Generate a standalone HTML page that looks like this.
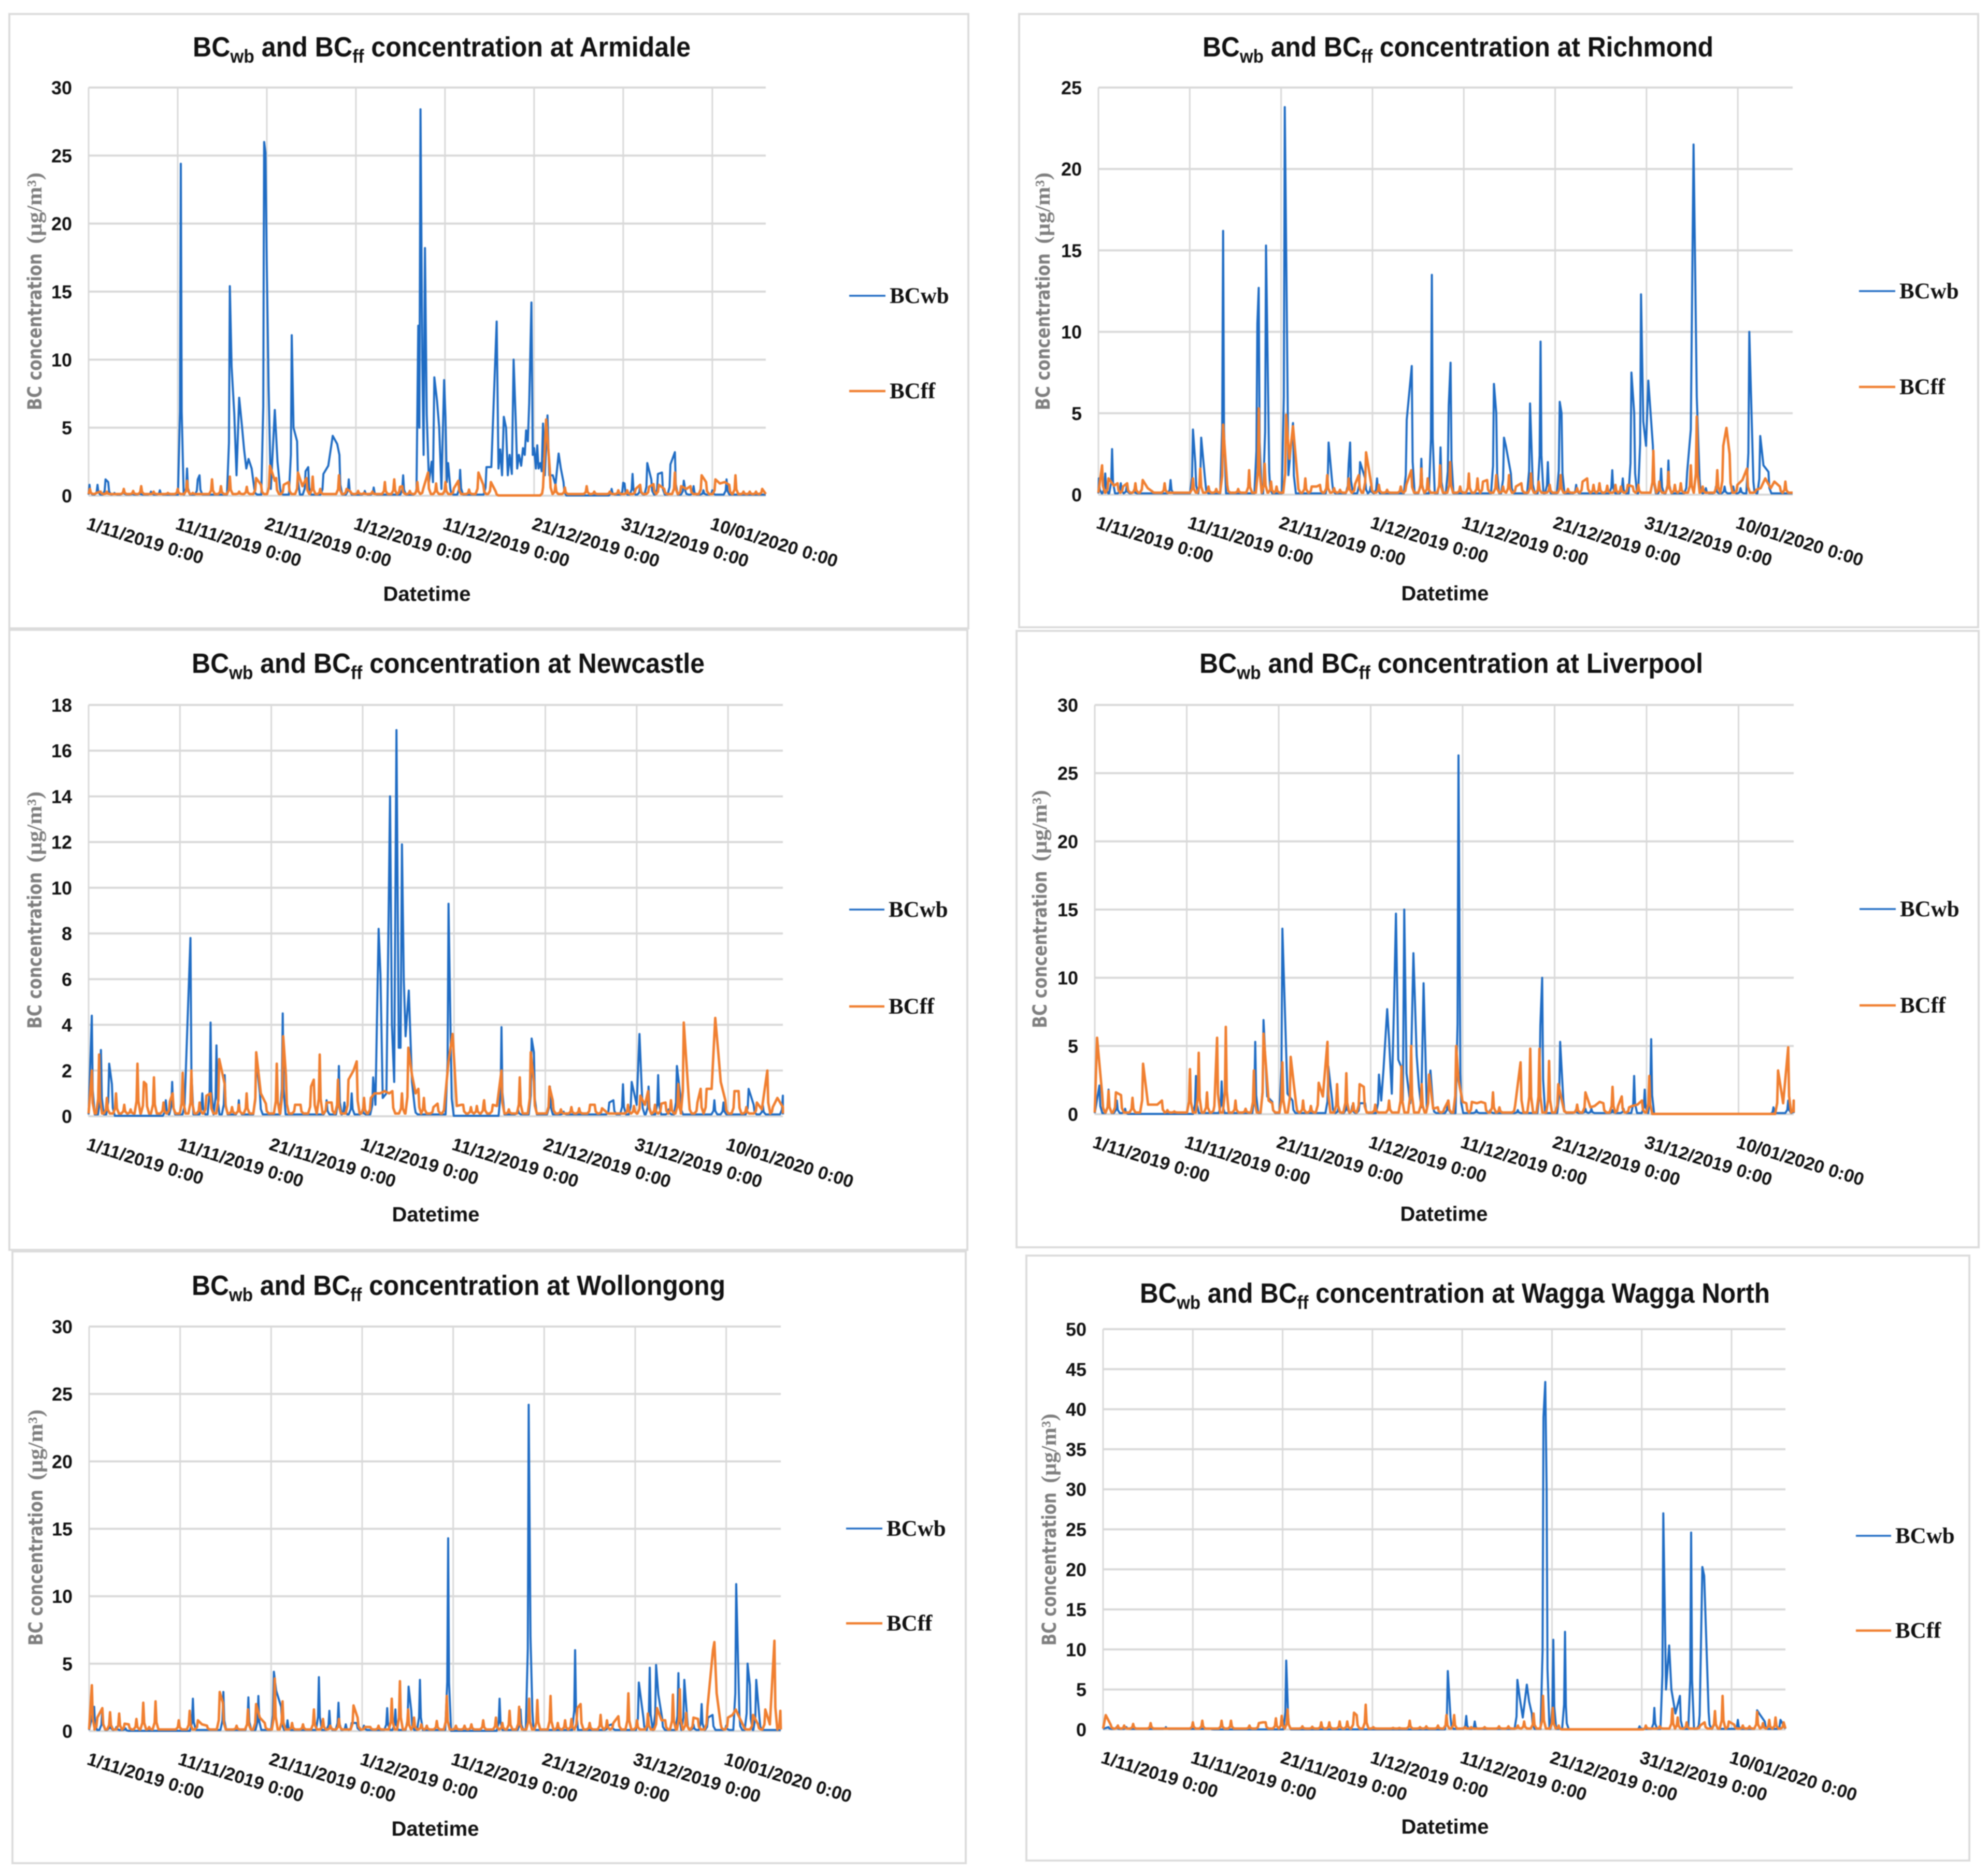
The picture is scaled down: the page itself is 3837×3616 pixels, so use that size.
<!DOCTYPE html>
<html lang="en">
<head>
<meta charset="utf-8">
<title>BCwb and BCff concentration at six NSW sites</title>
<style>
html,body{margin:0;padding:0;background:#fff;}
svg{display:block;filter:blur(1.1px);}
</style>
</head>
<body>
<svg id="figure" xmlns="http://www.w3.org/2000/svg" width="3837" height="3616" viewBox="0 0 3837 3616"></svg>
<script>
// Shared axis data
const dateTickDays = [0,10,20,30,40,50,60,70];
const dateTickLabels = ["1/11/2019 0:00","11/11/2019 0:00","21/11/2019 0:00","1/12/2019 0:00","11/12/2019 0:00","21/12/2019 0:00","31/12/2019 0:00","10/01/2020 0:00"];
const dayDomainEnd = 76;

// Armidale
const armidaleTicks = [0,5,10,15,20,25,30];
const armidaleWbDays = [0.1,1,1.9,2.2,3.9,7,8,10.35,11.05,12.25,12.45,15.85,16.05,16.35,16.6,16.9,17.2,17.45,17.7,17.95,18.3,18.6,19.7,19.85,20,20.2,20.45,20.9,21.2,21.5,22.8,23,23.4,24.35,24.65,26.35,26.9,27.4,27.9,28.15,29.2,32,35.3,36.8,37,37.12,37.25,37.45,37.6,37.75,37.95,38.2,38.5,38.65,38.8,39.1,39.35,39.6,39.9,40.05,40.2,40.35,40.6,41.7,44.65,45.2,45.8,46,46.2,46.4,46.6,46.85,47.05,47.25,47.5,47.7,47.95,48.1,48.3,48.55,48.75,48.95,49.1,49.3,49.45,49.7,49.85,50,50.2,50.35,50.5,50.7,50.85,51,51.2,51.5,51.7,52.1,52.4,52.75,53,53.3,58.7,60.15,61.05,61.9,62.7,63.15,63.9,64.35,65.3,65.8,66.8,67.9,71.6];
const armidaleWbValues = [0.8,0.8,1.2,1,0.4,0.3,0.4,24.4,2,1.2,1.5,15.4,9.5,6,1.5,7.2,5.2,3.4,2,2.7,2,0.5,26,25.2,17,8,0.5,6.3,2.5,0.5,11.8,5,4,1.8,2.1,1.6,2.2,4.4,3.8,3,1.2,0.6,1.5,0.5,12.5,5,28.4,10,3,18.2,6,1,2.5,1,8.7,7,5,0.5,8.5,5.8,1,2.4,0.5,1.9,2.1,2.1,12.8,2,3.4,1.5,5.8,5,1.5,3,1.6,10,5.3,2,3,2.2,3.5,3,4.8,4,6.8,14.2,3,3.5,2,3.7,2,2.4,1.8,5.3,1.5,5.9,1.5,1.5,0.8,3.1,2,1,0.5,0.9,1.6,0.7,2.4,1.2,1.6,1.7,2.3,3.2,1.1,0.7,1.2];
const armidaleWbMinorDays = [2.9,4.9,5.75,31,60,67,69,70];
const armidaleWbMinorValues = [0.2,0.15,0.2,0.35,0.95,0.3,0.4,0.4];
const armidaleFfDays = [0.15,1.35,3.95,5.9,7.3,10,11.05,13.85,14.85,15.85,16.9,18.8,19.35,20.35,21.05,21.9,22.45,23.5,24.45,25.15,28.1,28.95,30.9,33.25,34.3,35.2,36.9,38.1,39,40.05,41.5,43.75,44.3,45.15,45.7,51,51.35,51.75,52.4,53.45,55.9,59.45,61.9,64,65.8,66.5,67.55,68.8,69.3,70.35,71.4,72.6,73.5,75.6];
const armidaleFfValues = [0.5,0.3,0.5,0.7,0.3,0.5,1.1,1.2,0.7,1.4,0.3,1.3,0.8,2.2,1.3,0.8,1,1.7,1.3,1.4,1.5,0.5,0.2,1,1.2,0.7,1,1.7,0.9,1,1.1,1.7,0.8,1,0.3,0.6,5.6,2,0.8,0.6,0.7,0.4,0.8,0.8,1.7,0.7,0.7,1.5,1,1.2,1,1.5,0.3,0.5];
const armidaleFfMinorDays = [0.85,2.05,5,8.9,11.7,17.75,20.9,24,26,29.4,30.25,31.85,34.95,36.05,37.55,41,42.7,56.75,58.5,60.45,61.4,62.9,63.4,64.6,67.1,70.85,71.9,74.2,74.9];
const armidaleFfMinorValues = [0.2,0.3,0.35,0.2,0.2,0.65,1.1,0.7,0.5,0.3,0.35,0.3,0.65,0.35,0.5,0.55,0.45,0.3,0.3,0.4,0.5,0.65,0.85,0.5,0.5,0.9,0.8,0.3,0.3];

// Richmond
const richmondTicks = [0,5,10,15,20,25];
const richmondWbDays = [0.05,0.75,1.5,2.45,7.9,10.35,10.6,11.25,11.7,13.65,17.4,17.55,18.35,18.7,20.4,20.8,21.3,25.2,25.6,27.4,27.55,28.65,29.2,30.5,33.75,34.3,35.35,36.5,37.45,38.35,38.55,43.3,43.55,44.4,44.6,45.15,47.25,47.45,48.4,49.2,50.5,50.7,52.3,56.25,57.4,58.35,58.65,59.4,59.65,59.95,60.2,60.7,61.6,62.4,64.45,64.85,65.15,65.5,65.8,68.55,71.25,71.7,72.45,72.8,73.35];
const richmondWbValues = [1,1.3,2.8,0.7,0.9,4,2,3.5,0.8,16.2,10.5,12.7,15.3,1.4,23.8,1.2,4.4,3.2,0.7,1.9,3.2,2,1,1,4.6,7.9,2.2,13.5,2.9,5.5,8.1,6.8,5,3.5,3,1.3,5.6,2.3,9.4,2,5.7,5,0.6,1.5,1,7.5,5,12.3,4.5,3,7,3,1.6,2.1,1.4,4,21.5,6,1,0.5,10,0.8,3.6,1.8,1.4];
const richmondWbMinorDays = [3.1,3.9,29.8,66.5,67.6,69.5,70.3];
const richmondWbMinorValues = [0.5,0.3,0.5,0.4,0.5,0.5,0.4];
const richmondFfDays = [0.4,1.1,2.1,3.15,4.05,4.85,5.9,7.25,10.35,11.15,12.05,13.65,14.1,16.5,17.55,18.2,18.9,20.55,20.9,21.3,21.8,22.65,23.35,24.25,25.05,26.45,27.4,28.5,29.3,29.85,30.7,33.1,34.25,35.35,36.05,37.4,38.5,40.55,41.5,42.55,43.55,44.95,46.3,47.35,48.2,49.4,50.6,53.5,54.85,56.6,57.95,59.1,60.75,62.4,63.75,64.85,65.5,66.15,67.75,68.4,68.75,69.1,69.95,71,72,73,74,75.2];
const richmondFfValues = [1.8,1,0.7,0.7,0.7,0.9,0.2,0.7,1,1.6,0.5,4.3,0.6,1.5,5.3,1.9,0.8,4.9,2.2,4.2,1,1,0.5,0.6,1.2,0.3,1,1.2,2.6,0.7,0.6,0.5,1.5,1.6,1,1.8,2,1.3,1,0.9,1.2,1.2,0.7,1.3,0.8,0.6,1.2,1,0.7,0.6,0.6,0.6,2.7,1.4,0.7,1.8,4.8,0.5,1.5,3,4.1,2.5,0.6,1.6,0.3,1,0.8,0.8];
const richmondFfMinorDays = [1.7,2.7,5.4,12.9,15.3,19.5,23.9,25.8,28.1,31.6,33.7,39.6,42.1,44.3,45.7,51.4,52.4,53,54.2,55.7,57.2,58.5,61.4,63.1,70.5,72.5,73.6,74.6];
const richmondFfMinorValues = [0.55,0.5,0.4,0.35,0.35,0.5,0.5,0.4,0.65,0.3,0.6,0.5,0.8,0.5,0.5,0.35,0.4,0.8,0.6,0.55,0.5,0.5,0.8,0.6,0.9,0.4,0.4,0.5];

// Newcastle
const newcastleTicks = [0,2,4,6,8,10,12,14,16,18];
const newcastleWbDays = [0.35,1.35,2.25,2.55,8.45,9.15,10.6,11.15,12.45,13.35,14,14.9,16.45,18.35,18.75,21.25,26.05,27.4,28.8,31.15,31.4,31.75,31.95,32.2,32.6,33,33.2,33.45,33.7,33.95,34.15,34.3,34.5,34.7,35.05,35.4,35.7,39.4,39.65,45.2,48.5,48.75,50.5,57,57.45,58.5,59.45,60.3,60.55,61.3,62.35,64.4,64.75,68.5,72.25,72.8,76];
const newcastleWbValues = [4.4,2.9,2.3,1.4,0.7,1.5,1.5,7.8,1,4.1,3.1,1.8,0.7,2.5,1,4.5,0.7,2.2,1,1.7,0.5,8.2,6.2,0.8,1,14,4,1.5,16.9,3,3,11.9,6,3.5,5.5,1.5,0.4,9.3,3,3.9,3.4,2.8,1.3,0.6,0.7,1.4,1.5,3.6,1.2,1.3,1.8,2.2,1,0.7,1.2,0.5,0.9];
const newcastleWbMinorDays = [28,30,47,52,60,63.5,69.5,73.8];
const newcastleWbMinorValues = [0.6,0.3,0.3,0.2,0.5,0.3,0.6,0.5];
const newcastleFfDays = [0.35,1.15,2,3,3.9,5.35,6.05,6.3,7.15,8.2,9.2,10.3,11.25,12.15,13.35,14.3,14.9,16.45,17.3,18.35,18.85,20.6,21.3,21.6,22.6,24.35,24.65,25.3,26.05,27.3,28.45,29,29.35,30.15,31.9,32.9,34.3,35,35.4,35.8,36.7,37.75,39.4,39.85,40.8,41.85,43.25,44.25,45.2,47.2,48.4,48.75,50.45,50.8,52.85,54.9,56.65,59.05,60.4,61.25,63.15,64.55,65.15,65.7,67.65,68.2,68.6,68.95,69.2,70.7,71.15,73.15,74.3,75.4,76];
const newcastleFfValues = [2,2.7,0.8,1,0.5,2.3,1.5,1.4,1.7,0.6,1,1.9,2,0.6,1,2.5,1.4,0.5,1,2.8,1,2.3,3.5,1.8,0.5,1.3,1.6,2.7,0.6,1.6,1.6,2,2.4,0.8,1,1,1,3,1.8,1,0.8,0.4,2.4,3.6,0.5,0.4,0.6,0.5,2,1.7,2.8,1.5,1.3,0.7,0.4,0.5,0.2,0.5,0.9,1.1,0.6,1.4,4.1,0.8,1.2,1.2,4.3,2.7,1.5,1.1,1.1,0.6,2,0.8,0.4];
const newcastleFfMinorDays = [4.6,8.9,12.9,15.7,19.4,23.2,26.6,30.9,31.3,32.4,33.25,36.1,38.2,39,40.3,41,42.5,43.3,44.7,46,51.7,53.7,55.4,56.2,59.7,60.9,62,62.7,63.75,66.65,67,69.7,72,73.7,74.9];
const newcastleFfMinorValues = [0.3,0.65,0.9,0.4,0.55,0.5,0.6,0.8,1,1.1,1.1,1.2,0.55,0.7,0.45,0.5,0.45,0.7,0.45,0.3,0.3,0.35,0.5,0.35,0.45,0.5,0.5,0.55,0.7,0.6,1.2,0.7,0.4,0.3,0.4];

// Liverpool
const liverpoolTicks = [0,5,10,15,20,25,30];
const liverpoolWbDays = [0.5,1.5,2.4,11,13.8,17.45,18.35,18.75,20.4,20.95,25.4,25.8,27.4,28.8,30.9,31.15,31.4,31.8,32,32.3,32.55,32.75,33,33.3,33.5,33.65,33.9,34.3,34.65,35,35.25,35.5,35.75,36.1,36.5,36.8,39.55,39.75,48.45,48.65,50.6,50.95,53.35,58.65,59.8,60.5,73.8,75.4,76.05];
const liverpoolWbValues = [2.1,1.8,1,2.8,2.4,5.3,6.9,1.3,13.6,1.5,3.5,1.1,1,0.8,2.9,1,3.3,7.7,5.5,1.5,8.3,14.7,4,3.5,1,15,3,0.8,11.8,4.3,2,0.5,9.6,0.5,3.2,0.5,26.3,3,6.5,10,5.3,1,0.4,2.8,1.8,5.5,0.5,1,0.4];
const liverpoolWbMinorDays = [3.3,19.3,21.5,26.5,28,29.4,38.4,41.5,43,46,52.3,54,56.3,57.5];
const liverpoolWbMinorValues = [0.4,0.9,1,0.5,0.6,0.8,1,0.3,0.3,0.3,0.3,0.4,0.3,0.4];
const liverpoolFfDays = [0.25,0.8,1.5,2.3,2.85,4.1,5.25,6.3,7.3,8.65,10.35,11.3,12.2,13.3,14.25,15.3,17.3,18.35,18.9,20.4,21.3,22.65,24.35,25.3,26.35,27.35,28.8,29.25,30.5,32,33.35,34.4,35.55,36.35,37.3,38.45,39.3,39.55,40.4,41.55,42.45,43.3,45.7,46.3,47.35,48.35,49.4,50.4,50.95,52.45,53.35,54.35,55.3,56.3,57.3,58.45,59.5,60.3,74.3,74.85,75.4,76.05];
const liverpoolFfValues = [5.6,1.5,1.7,1.6,1.4,1.2,3.7,0.7,1,0.2,3.3,4.5,1.6,5.6,6.4,1,3.2,5.9,1,3.8,4.2,1,2.3,5.3,2.2,3,2.2,2,0.7,1,3.5,5,2.2,2.9,0.5,1,5,2.5,0.8,0.8,0.8,1.6,0.6,3.8,4.8,4.8,3.9,2.2,0.5,0.7,1.6,0.6,0.8,2,1.3,0.6,1,2.8,3.2,0.8,4.9,1];
const liverpoolFfMinorDays = [5.8,6.8,7.9,13,16.4,19.3,21.9,23.5,24.8,28.1,36.8,38,40,41,42,44,53.9,54.9,56.9,58.1,59];
const liverpoolFfMinorValues = [0.7,0.7,0.3,0.6,0.4,0.8,0.7,0.6,1.3,0.8,0.4,0.4,0.9,0.9,0.9,0.5,0.5,0.9,0.6,0.5,0.7];

// Wollongong
const wollongongTicks = [0,5,10,15,20,25,30];
const wollongongWbDays = [0.55,1.45,2.3,11.4,14.75,17.5,18.6,20.3,20.55,21.1,25.25,26.4,27.4,28.85,32.75,33.65,35.1,35.4,36.35,39.45,45.1,47.4,48.3,48.5,48.7,53.4,57.45,60.4,60.9,61.6,62.3,62.55,62.95,64.75,65.4,65.7,67.3,68.5,71.1,71.45,72.35,72.6,73.3,73.65];
const wollongongWbValues = [1.8,1.6,0.6,2.4,2.9,2.5,2.6,4.4,3,1.8,4,1.5,2.1,0.6,1.7,1.6,3.3,1.5,3.8,14.3,2.4,1.6,24.2,7,1.5,6,0.5,3.6,1,4.7,4.9,2.7,1,4.3,3.8,1,2,1.2,10.9,1.2,5,3.4,3.8,1];
const wollongongWbMinorDays = [3,4,21.8,28.2,29.4,30.2,57,66.4,68,70];
const wollongongWbMinorValues = [0.3,0.2,0.8,0.5,0.6,0.4,0.4,0.5,1,0.4];
const wollongongFfDays = [0.3,0.9,1.45,2.3,3.3,4.35,5.2,5.95,7.3,9.85,11.05,11.95,12.95,14.35,14.7,17.45,18.35,18.75,20.4,21.25,22.3,24.7,25.7,27.45,29.05,29.5,30.9,33.25,34.15,35.05,35.7,37.1,39.3,41.25,43.3,44.7,46.2,47.25,48.35,49.25,50.7,52.3,53.65,54,55,56.2,58.15,59.25,60.2,61.4,62.4,63.3,64.15,64.9,66.4,67.95,68.55,68.7,68.95,70.2,71.05,71.95,72.95,74.3,75.3,75.95];
const wollongongFfValues = [3.4,1,1.7,1.4,1.3,0.5,0.9,2.1,2.2,0.8,1.5,0.8,0.4,2.9,2.1,1.6,2,1,3.9,2.2,0.6,1.6,0.9,0.9,1.9,1,0.3,2.4,3.7,1.6,1,0.4,2.6,0.4,0.8,1,1.5,1.8,2.4,2.3,2.6,0.8,1.7,2,0.6,1.2,1.1,2.8,0.8,1.3,1.7,0.8,2.7,3.1,1,1.8,6,6.6,2.8,1,1.6,0.3,1.2,1.6,6.7,1.5];
const wollongongFfMinorDays = [3.9,6.6,12.4,16.2,19.3,23.5,26.5,30.3,31.8,36.5,38.2,40.3,42,45.4,51.5,53,56.9,57.6,62.9,65.6,66.9,69.4,70.7,71.6,73.5,74.8];
const wollongongFfMinorValues = [0.55,0.3,0.5,0.4,0.6,0.5,0.4,0.3,0.4,0.5,0.75,0.4,0.5,0.6,0.6,0.9,0.8,0.6,0.8,1.35,0.9,0.5,1.2,0.8,0.5,0.5];

// Wagga Wagga North
const waggaTicks = [0,5,10,15,20,25,30,35,40,45,50];
const waggaWbDays = [20.4,20.6,38.4,38.7,40.45,41.4,46.15,46.4,46.75,47.2,47.45,47.75,49.05,49.25,49.4,50.15,51.45,51.55,59.75,61.4,62.4,62.7,63.05,63.3,63.75,64.25,65.5,66.45,66.75,66.95,67.45,68.15,70.7,72.85,73.2,73.7,75.45];
const waggaWbValues = [8.6,2,7.3,1.5,1.7,1,6.2,4,1.5,5.6,3.5,2,39,43.4,30,11.2,12.2,3,0.4,2.7,27,5,10.5,5,2,4.2,24.6,1.8,20.3,19.2,2.2,2,1.2,2.4,1.8,1,1.2];
const waggaWbMinorDays = [0.6,1.5,2.6,7,12];
const waggaWbMinorValues = [0.3,0.3,0.3,0.3,0.1];
const waggaFfDays = [0.3,0.85,1.65,2.35,3.35,5.3,10,11.05,13.2,14.25,16.3,17.35,18.1,19.25,19.9,20.55,22.2,24.3,25.2,26.35,27.2,27.95,28.25,29.25,32.3,34.15,36,37.3,38.25,39.1,40.3,44.1,45.15,46.9,47.95,49,50.1,50.75,60.45,63.4,64,65,68.15,69,69.7,71.25,72.85,74.2,74.9,75.8];
const waggaFfValues = [1.8,0.6,0.5,0.5,0.7,0.8,0.9,1.1,1.1,1.1,0.5,0.8,0.9,1.4,1.7,2.5,0.4,0.9,0.9,1,1,2.1,1.8,3.1,0.2,1.1,0.4,0.5,1.8,1.8,0.3,0.4,0.4,1,2,4.2,2.7,0.5,0.5,2.6,1.5,0.9,2.3,4.2,1,0.5,2.2,1.2,1.5,0.9];
const waggaFfMinorDays = [17.8,23.3,30.1,33,35.3,41,42.5,46.2,62,66.5,67,70.3,72,73.5];
const waggaFfMinorValues = [0.9,0.35,0.3,0.2,0.3,0.3,0.3,0.5,0.4,0.5,0.9,0.6,0.4,0.8];

// Layout (separate from the data above)
const panels = [
 {site:"Armidale",slug:"armidale",ticks:armidaleTicks,wbD:armidaleWbDays,wbV:armidaleWbValues,wbMD:armidaleWbMinorDays,wbMV:armidaleWbMinorValues,ffD:armidaleFfDays,ffV:armidaleFfValues,ffMD:armidaleFfMinorDays,ffMV:armidaleFfMinorValues,
  frame:[18,27,1869,1213],left:171,right:1478,top:169,bottom:957,title:[372,1333,92],dt:[824,1146],yt:[67,792,333],lg:[1639,1709,571,755]},
 {site:"Richmond",slug:"richmond",ticks:richmondTicks,wbD:richmondWbDays,wbV:richmondWbValues,wbMD:richmondWbMinorDays,wbMV:richmondWbMinorValues,ffD:richmondFfDays,ffV:richmondFfValues,ffMD:richmondFfMinorDays,ffMV:richmondFfMinorValues,
  frame:[1967,27,3818,1211],left:2120,right:3460,top:169,bottom:955,title:[2321,3307,92],dt:[2789,1145],yt:[2013,792,333],lg:[3588,3658,562,747]},
 {site:"Newcastle",slug:"newcastle",ticks:newcastleTicks,wbD:newcastleWbDays,wbV:newcastleWbValues,wbMD:newcastleWbMinorDays,wbMV:newcastleWbMinorValues,ffD:newcastleFfDays,ffV:newcastleFfValues,ffMD:newcastleFfMinorDays,ffMV:newcastleFfMinorValues,
  frame:[18,1216,1867,2413],left:171,right:1511,top:1361,bottom:2155,title:[370,1360,1282],dt:[841,2344],yt:[67,1986,1528],lg:[1639,1707,1756,1943]},
 {site:"Liverpool",slug:"liverpool",ticks:liverpoolTicks,wbD:liverpoolWbDays,wbV:liverpoolWbValues,wbMD:liverpoolWbMinorDays,wbMV:liverpoolWbMinorValues,ffD:liverpoolFfDays,ffV:liverpoolFfValues,ffMD:liverpoolFfMinorDays,ffMV:liverpoolFfMinorValues,
  frame:[1962,1218,3819,2408],left:2113,right:3462,top:1361,bottom:2151,title:[2315,3287,1282],dt:[2787,2343],yt:[2007,1985,1525],lg:[3589,3659,1755,1941]},
 {site:"Wollongong",slug:"wollongong",ticks:wollongongTicks,wbD:wollongongWbDays,wbV:wollongongWbValues,wbMD:wollongongWbMinorDays,wbMV:wollongongWbMinorValues,ffD:wollongongFfDays,ffV:wollongongFfValues,ffMD:wollongongFfMinorDays,ffMV:wollongongFfMinorValues,
  frame:[24,2416,1864,3597],left:172,right:1507,top:2561,bottom:3342,title:[370,1400,2483],dt:[840,3530],yt:[69,3177,2721],lg:[1633,1703,2951,3134]},
 {site:"Wagga Wagga North",slug:"wagga-wagga-north",ticks:waggaTicks,wbD:waggaWbDays,wbV:waggaWbValues,wbMD:waggaWbMinorDays,wbMV:waggaWbMinorValues,ffD:waggaFfDays,ffV:waggaFfValues,ffMD:waggaFfMinorDays,ffMV:waggaFfMinorValues,
  frame:[1981,2424,3801,3592],left:2129,right:3446,top:2566,bottom:3339,title:[2200,3416,2498],dt:[2789,3526],yt:[2025,3177,2729],lg:[3582,3650,2965,3148]}
];

const SVGNS = "http://www.w3.org/2000/svg";
const root = document.getElementById("figure");
const SANS = '"Liberation Sans", Arial, sans-serif';
const SERIF = '"Liberation Serif", "Times New Roman", serif';
const WIDE = '"DejaVu Sans", Verdana, sans-serif';
const BLUE = "#1f6cc4";
const ORANGE = "#f07f30";
const GRID = "#d9d9d9";
const FOOT = 0.32;
const SHOULDER = 0.1;
const SHOULDER_RATIO = 0.25;
const MAX_JOIN_GAP = 0.6;
const QUIET_GAP = 5;
const QUIET_LEVEL = 0.02;
const WB_BASE_LEVEL = 0.08;
const FF_BASE_LEVEL = 0.12;

function make(tag, attrs, parent){
  const el = document.createElementNS(SVGNS, tag);
  for (const k in attrs) el.setAttribute(k, attrs[k]);
  parent.appendChild(el);
  return el;
}

function mergeSeries(days, values, minorDays, minorValues){
  const out = [];
  for (let i = 0; i < Math.min(days.length, values.length); i++) out.push([days[i], values[i]]);
  for (let i = 0; i < Math.min(minorDays.length, minorValues.length); i++) out.push([minorDays[i], minorValues[i]]);
  out.sort((a, b) => a[0] - b[0]);
  return out;
}

function seriesPath(series, baseLevel, x, y){
  const pts = [];
  const add = (d, v) => pts.push([x(Math.max(0, Math.min(dayDomainEnd, d))), y(v)]);
  const n = series.length;
  for (let i = 0; i < n; i++){
    const d = series[i][0], v = series[i][1];
    const gapBefore = i === 0 ? d : d - series[i-1][0];
    const gapAfter = i === n-1 ? dayDomainEnd - d : series[i+1][0] - d;
    const leftBase = gapBefore > QUIET_GAP ? QUIET_LEVEL : baseLevel;
    const rightBase = gapAfter > QUIET_GAP ? QUIET_LEVEL : baseLevel;
    if (i === 0) add(0, leftBase);
    if (gapBefore > MAX_JOIN_GAP){
      add(d - FOOT, leftBase);
      add(d - SHOULDER, leftBase + (v - leftBase) * SHOULDER_RATIO);
    }
    add(d, v);
    if (gapAfter > MAX_JOIN_GAP){
      add(d + SHOULDER, rightBase + (v - rightBase) * SHOULDER_RATIO);
      add(d + FOOT, rightBase);
    }
    if (i === n-1) add(dayDomainEnd, rightBase);
  }
  return "M" + pts.map(p => p[0].toFixed(1) + " " + p[1].toFixed(1)).join("L");
}

function drawPanel(p){
  const g = make("g", {}, root);
  
  

  const frame = make("rect", {x:p.frame[0], y:p.frame[1], width:p.frame[2]-p.frame[0], height:p.frame[3]-p.frame[1], fill:"#fff", stroke:"#dcdcdc", "stroke-width":4}, g);
  
  

  const maxTick = p.ticks[p.ticks.length-1];
  const x = d => p.left + (d / dayDomainEnd) * (p.right - p.left);
  const y = v => p.bottom - (v / maxTick) * (p.bottom - p.top);

  // title
  const title = make("text", {x:p.title[0], y:p.title[2]+17, "font-family":SANS, "font-weight":"700", "font-size":54, fill:"#111", textLength:p.title[1]-p.title[0], lengthAdjust:"spacingAndGlyphs"}, g);
  
  
  const parts = [["BC",0,54],["wb",12,36],[" and BC",-12,54],["ff",12,36],[" concentration at " + p.site,-12,54]];
  parts.forEach(part => {
    const t = make("tspan", {dy:part[1], "font-size":part[2]}, title);
    t.textContent = part[0];
  });

  // horizontal gridlines and y ticks
  p.ticks.forEach(v => {
    const line = make("line", {x1:p.left, x2:p.right, y1:y(v), y2:y(v), stroke:GRID, "stroke-width":4}, g);
    
    
    const label = make("text", {x:p.left-32, y:y(v)+13, "text-anchor":"end", "font-family":SANS, "font-weight":"700", "font-size":36, fill:"#111"}, g);
    
    
    label.textContent = v;
  });

  // vertical gridlines and date ticks
  dateTickDays.forEach((d, i) => {
    const line = make("line", {x1:x(d), x2:x(d), y1:p.top, y2:p.bottom, stroke:GRID, "stroke-width":3}, g);
    
    
    const lx = x(d) - 6, ly = p.bottom + 64;
    const label = make("text", {x:lx, y:ly, transform:"rotate(17 " + lx + " " + ly + ")", "font-family":SANS, "font-weight":"700", "font-size":35, fill:"#111"}, g);
    
    
    label.textContent = dateTickLabels[i];
  });

  // series
  const wb = make("path", {d:seriesPath(mergeSeries(p.wbD, p.wbV, p.wbMD, p.wbMV), WB_BASE_LEVEL, x, y), fill:"none", stroke:BLUE, "stroke-width":4, "stroke-linejoin":"round"}, g);
  
  
  const ff = make("path", {d:seriesPath(mergeSeries(p.ffD, p.ffV, p.ffMD, p.ffMV), FF_BASE_LEVEL, x, y), fill:"none", stroke:ORANGE, "stroke-width":4.8, "stroke-linejoin":"round"}, g);
  
  

  // axis titles
  const dt = make("text", {x:p.dt[0], y:p.dt[1]+14, "text-anchor":"middle", "font-family":SANS, "font-weight":"700", "font-size":40, fill:"#111"}, g);
  
  
  dt.textContent = "Datetime";

  const yx = p.yt[0] + 13, yy = p.yt[1];
  const span = p.yt[1] - p.yt[2];
  const mainLen = span * 0.66, unitLen = span * 0.30;
  const yt = make("text", {x:yx, y:yy, transform:"rotate(-90 " + yx + " " + yy + ")", "font-family":WIDE, "font-weight":"700", "font-size":37, fill:"#7f7f7f", textLength:mainLen, lengthAdjust:"spacingAndGlyphs"}, g);
  
  
  yt.textContent = "BC concentration";
  const uy = yy - (span - unitLen);
  const ut = make("text", {x:yx, y:uy, transform:"rotate(-90 " + yx + " " + uy + ")", "font-family":SERIF, "font-weight":"700", "font-size":41, fill:"#7f7f7f", textLength:unitLen, lengthAdjust:"spacingAndGlyphs"}, g);
  
  
  ut.textContent = "(\u00b5g/m\u00b3)";

  // legend
  [["BCwb", BLUE, p.lg[2], 3.6, "legend-entry-bcwb"], ["BCff", ORANGE, p.lg[3], 4.5, "legend-entry-bcff"]].forEach(e => {
    const lg = make("g", {}, g);
    
    
    make("line", {x1:p.lg[0], x2:p.lg[1], y1:e[2], y2:e[2], stroke:e[1], "stroke-width":e[3]}, lg);
    const t = make("text", {x:p.lg[1]+8, y:e[2]+14, "font-family":SERIF, "font-weight":"700", "font-size":43, fill:"#111"}, lg);
    t.textContent = e[0];
  });
}

panels.forEach(drawPanel);
</script>
</body>
</html>
